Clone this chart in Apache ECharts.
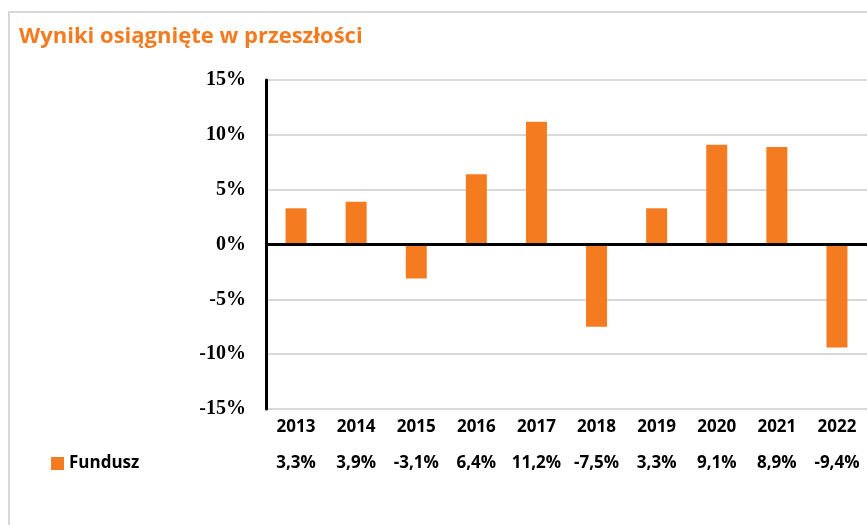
<!DOCTYPE html>
<html>
<head>
<meta charset="utf-8">
<script src="https://cdn.jsdelivr.net/npm/echarts@6/dist/echarts.min.js"></script>
<style>
  html, body { margin: 0; padding: 0; background: #fff; }
  #chart { width: 867px; height: 525px; }
</style>
</head>
<body>
<div id="chart"></div>
<script>
// dane
const years = ['2013', '2014', '2015', '2016', '2017', '2018', '2019', '2020', '2021', '2022']
const fundusz = [3.3, 3.9, -3.1, 6.4, 11.2, -7.5, 3.3, 9.1, 8.9, -9.4]
const yTicks = [-15, -10, -5, 0, 5, 10, 15]

const orange = '#F47B20'
const fmt = v => v.toFixed(1).replace('.', ',') + '%'

const myChart = echarts.init(document.getElementById('chart'))

const option = {
  animation: false,
  backgroundColor: '#fff',
  title: {
    text: 'Wyniki osiągnięte w przeszłości',
    left: 14,
    top: 21,
    textStyle: {
      color: orange,
      fontFamily: 'Open Sans',
      fontWeight: 'bold',
      fontSize: 22
    }
  },
  graphic: [{
    type: 'rect',
    shape: {x: 9, y: 12, width: 900, height: 600},
    style: {fill: 'none', stroke: '#d9d9d9', lineWidth: 2},
    z: -1
  }],
  legend: {
    left: 46,
    top: 450,
    icon: 'rect',
    itemWidth: 13,
    itemHeight: 13,
    itemGap: 4,
    textStyle: {
      fontFamily: 'Open Sans',
      fontWeight: 'bold',
      fontSize: 17,
      color: '#000'
    },
    data: ['Fundusz']
  },
  grid: {
    left: 266,
    top: 80,
    width: 608,
    height: 329
  },
  xAxis: {
    type: 'category',
    data: years,
    axisLine: {show: false},
    axisTick: {show: false},
    axisLabel: {
      margin: 0,
      interval: 0,
      formatter: (val, idx) => '{y|' + val + '}\n{v|' + fmt(fundusz[idx]) + '}',
      rich: {
        y: {fontFamily: 'Open Sans', fontWeight: 'bold', fontSize: 17, color: '#000', lineHeight: 36},
        v: {fontFamily: 'Open Sans', fontWeight: 'bold', fontSize: 17, color: '#000', lineHeight: 36}
      }
    }
  },
  yAxis: {
    type: 'value',
    min: yTicks[0],
    max: yTicks[yTicks.length - 1],
    interval: 5,
    axisLine: {show: true, lineStyle: {color: '#000', width: 3}},
    axisTick: {show: false},
    axisLabel: {
      margin: 20,
      formatter: v => v + '%',
      fontFamily: 'Liberation Serif',
      fontWeight: 'bold',
      fontSize: 20,
      color: '#000'
    },
    splitLine: {lineStyle: {color: '#d9d9d9', width: 2}}
  },
  series: [{
    name: 'Fundusz',
    type: 'bar',
    data: fundusz,
    barWidth: 21,
    itemStyle: {color: orange},
    markLine: {
      silent: true,
      symbol: 'none',
      label: {show: false},
      lineStyle: {color: '#000', width: 3, type: 'solid'},
      data: [{yAxis: 0}]
    }
  }]
}

myChart.setOption(option)
</script>
</body>
</html>
